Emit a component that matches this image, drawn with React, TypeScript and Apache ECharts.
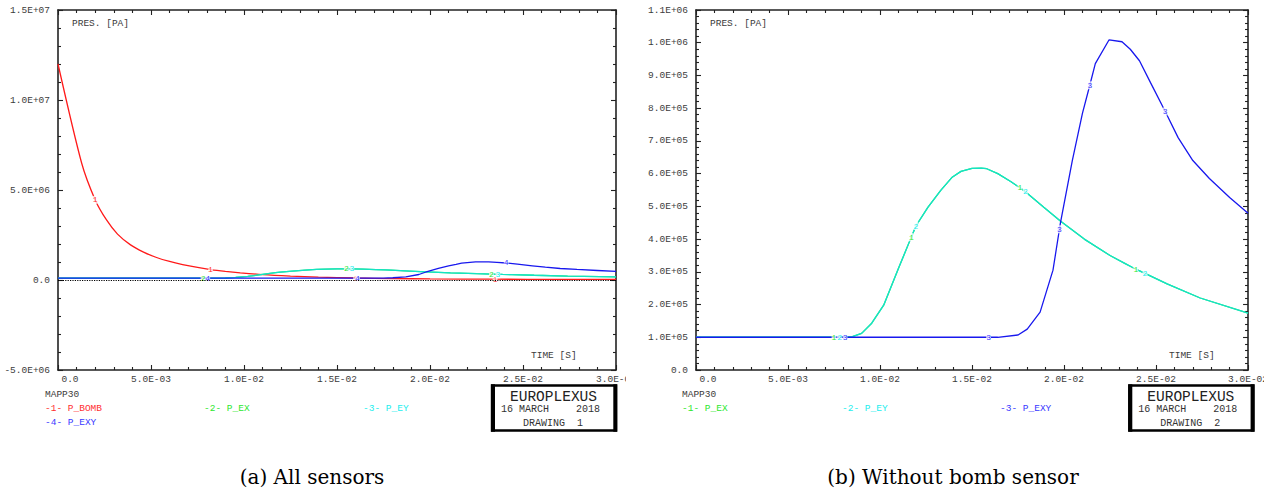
import React, { useEffect, useRef } from 'react';
import * as echarts from 'echarts';

// ---------- data ----------
const timeAxis = [0, 0.03, 0.005]; // min, max, step (s)
const pressureAxisA = [-5e6, 1.5e7, 5e6];
const pressureAxisB = [0, 1.1e6, 1e5];

const sensorNamesA = ['P_BOMB', 'P_EX', 'P_EY', 'P_EXY'];
const sensorNamesB = ['P_EX', 'P_EY', 'P_EXY'];

const bombTime = [0, 0.00127, 0.002, 0.0026, 0.0032, 0.0039, 0.0046, 0.0053, 0.006, 0.0067, 0.0075, 0.0082, 0.009, 0.0098, 0.011, 0.0125, 0.014, 0.016, 0.018, 0.02, 0.0235, 0.027, 0.03];
const bombValues = [1.2e7, 6.5e6, 4.45e6, 3.35e6, 2.55e6, 1.95e6, 1.55e6, 1.25e6, 1.03e6, 0.86e6, 0.7e6, 0.58e6, 0.48e6, 0.4e6, 0.3e6, 0.22e6, 0.16e6, 0.11e6, 0.08e6, 0.06e6, 0.045e6, 0.035e6, 0.03e6];

const exTime = [0, 0.0075, 0.0078, 0.008, 0.0085, 0.009, 0.00955, 0.0102, 0.011, 0.0117, 0.01195, 0.0126, 0.0133, 0.0139, 0.0144, 0.015, 0.0155, 0.0158, 0.0164, 0.0171, 0.0176, 0.0179, 0.0189, 0.0198, 0.0211, 0.0225, 0.0233, 0.02365, 0.0239, 0.0244, 0.0256, 0.0274, 0.03];
const exValues = [1.0e5, 1.0e5, 1.0e5, 1.0e5, 1.02e5, 1.12e5, 1.43e5, 1.98e5, 3.1e5, 4.06e5, 4.4e5, 4.97e5, 5.49e5, 5.88e5, 6.07e5, 6.16e5, 6.17e5, 6.15e5, 6.0e5, 5.76e5, 5.57e5, 5.45e5, 4.97e5, 4.55e5, 4.0e5, 3.5e5, 3.26e5, 3.155e5, 3.08e5, 2.95e5, 2.63e5, 2.2e5, 1.74e5];
const eyTime = exTime;
const eyValues = [1.0e5, 1.0e5, 1.0e5, 1.0e5, 1.02e5, 1.12e5, 1.43e5, 1.98e5, 3.1e5, 4.06e5, 4.4e5, 4.97e5, 5.49e5, 5.88e5, 6.07e5, 6.16e5, 6.17e5, 6.15e5, 6.0e5, 5.76e5, 5.57e5, 5.45e5, 4.97e5, 4.55e5, 4.0e5, 3.5e5, 3.26e5, 3.155e5, 3.08e5, 2.95e5, 2.63e5, 2.2e5, 1.74e5];

const exyTime = [0, 0.00805, 0.0081, 0.0159, 0.0161, 0.0164, 0.0175, 0.018, 0.0187, 0.0194, 0.01975, 0.0198, 0.02045, 0.021, 0.0214, 0.0217, 0.02245, 0.02315, 0.0236, 0.0241, 0.0247, 0.0255, 0.0262, 0.027, 0.0279, 0.029, 0.03];
const exyValues = [1e5, 1e5, 1e5, 1e5, 1e5, 1e5, 1.07e5, 1.25e5, 1.77e5, 3.05e5, 4.3e5, 4.48e5, 6.4e5, 7.84e5, 8.7e5, 9.36e5, 10.09e5, 10.03e5, 9.8e5, 9.45e5, 8.78e5, 7.9e5, 7.1e5, 6.4e5, 5.85e5, 5.27e5, 4.79e5];

// curve-number label positions (times)
const labelsA_bomb = [0.002, 0.0082, 0.016, 0.0235];
const labelsA_ex = [0.0078, 0.0155, 0.0233];
const labelsA_ey = [0.0158, 0.02365];
const labelsA_exy = [0.00805, 0.0161, 0.0241];
const labelsB_ex = [0.0075, 0.0117, 0.0176, 0.0239];
const labelsB_ey = [0.0078, 0.01195, 0.0179, 0.0244];
const labelsB_exy = [0.0081, 0.0159, 0.01975, 0.0214, 0.0255];

// ---------- styles ----------
const MONO = '"Liberation Mono", "DejaVu Sans Mono", monospace';
const GRAY = '#3c3c3c';
const C_BOMB = '#ff1a1a';
const C_EX = '#22e07a';
const C_EY = '#14e4c4';
const C_EXY = '#1818ee';
const T_BOMB = '#ff3030';
const T_EX = '#2ee82e';
const T_EY = '#22eeee';
const T_EXY = '#3a3aff';

function sci(v: number): string {
  if (Math.abs(v) < 1e-12) return '0.0';
  const s = v.toExponential(1);
  const [m, e] = s.split('e');
  return m + 'E' + e[0] + e.slice(1).padStart(2, '0');
}

const axisLine = { show: true, onZero: false, lineStyle: { color: '#222', width: 1.6 } };
const tickStyle = { color: '#222', width: 1.1 };

function xAxes(gridIndex: number) {
  const base = {
    type: 'value', gridIndex, min: timeAxis[0], max: timeAxis[1], interval: timeAxis[2],
    axisLine, splitLine: { show: false },
    axisTick: { show: true, inside: true, length: 5, lineStyle: tickStyle },
    minorTick: { show: true, splitNumber: 5, length: 3, lineStyle: tickStyle },
  };
  return [
    {
      ...base, position: 'bottom',
      axisLabel: {
        show: true, margin: 4, color: GRAY, fontFamily: MONO, fontSize: 9.5,
        showMinLabel: true, showMaxLabel: true,
        formatter: (v: number) => (Math.abs(v) < 1e-12 ? '{z|0.0}' : sci(v)),
        rich: { z: { padding: [0, 0, 0, 24], color: GRAY, fontFamily: MONO, fontSize: 9.5 } },
      },
    },
    { ...base, position: 'top', axisLabel: { show: false } },
  ];
}

function yAxes(gridIndex: number, range: number[]) {
  const base = {
    type: 'value', gridIndex, min: range[0], max: range[1], interval: range[2],
    axisLine, splitLine: { show: false },
    axisTick: { show: true, inside: true, length: 5, lineStyle: tickStyle },
    minorTick: { show: true, splitNumber: 5, length: 3, lineStyle: tickStyle },
  };
  return [
    {
      ...base, position: 'left',
      axisLabel: {
        show: true, margin: 8, color: GRAY, fontFamily: MONO, fontSize: 9.5,
        showMinLabel: true, showMaxLabel: true, formatter: (v: number) => sci(v),
      },
    },
    { ...base, position: 'right', axisLabel: { show: false } },
  ];
}

function lineSeries(name: string, times: number[], values: number[], color: string, labelColor: string,
  labelText: string, labelTimes: number[], axisIdx: number, extra: any = {}) {
  return {
    type: 'line', name, xAxisIndex: axisIdx, yAxisIndex: axisIdx,
    symbol: 'none', showSymbol: true, smooth: false,
    lineStyle: { color, width: 1.3 }, itemStyle: { color },
    label: { show: false }, emphasis: { disabled: true }, silent: true,
    data: times.map((t, i) =>
      labelTimes.includes(t)
        ? {
            value: [t, values[i]], symbol: 'circle', symbolSize: 1, itemStyle: { color: '#fff' },
            label: {
              show: true, formatter: labelText, position: 'inside', color: labelColor,
              fontSize: 8, fontFamily: MONO, backgroundColor: 'rgba(255,255,255,0.75)', padding: [0, 0],
            },
          }
        : [t, values[i]]
    ),
    ...extra,
  };
}

function txt(text: string, x: number, y: number, fill: string, fontSize = 9.5, align = 'left', fontFamily = MONO) {
  return {
    type: 'text', x, y, z: 50,
    style: { text, fill, fontSize, fontFamily, align, verticalAlign: 'middle' },
  };
}

function panelGraphics(dx: number, legendNames: string[], legendColors: string[], legendPos: number[][],
  plotLeft: number, timeLabelX: number, drawing: string) {
  const g: any[] = [];
  g.push(txt('PRES. [PA]', plotLeft + 14, 23.5, GRAY));
  g.push(txt('TIME [S]', timeLabelX, 355, GRAY));
  g.push(txt('MAPP30', legendPos[0][0], 394, GRAY));
  legendNames.forEach((n, i) => {
    g.push(txt(`-${i + 1}- ${n}`, legendPos[i][0], legendPos[i][1], legendColors[i]));
  });
  // title box
  g.push({ type: 'rect', z: 40, shape: { x: 492 + dx, y: 385.5, width: 124, height: 45 }, style: { fill: '#fff', stroke: '#000', lineWidth: 2.4 } });
  g.push({ type: 'rect', z: 41, shape: { x: 491 + dx, y: 384.3, width: 4, height: 47.4 }, style: { fill: '#000' } });
  g.push({ type: 'rect', z: 41, shape: { x: 613.3 + dx, y: 384.3, width: 4, height: 47.4 }, style: { fill: '#000' } });
  g.push(txt('EUROPLEXUS', 553.5 + dx, 396.5, '#222', 14.5, 'center'));
  g.push(txt('16 MARCH', 501 + dx, 409.5, '#333', 10));
  g.push(txt('2018', 600 + dx, 409.5, '#333', 10, 'right'));
  g.push(txt('DRAWING  ' + drawing, 523 + dx, 423, '#333', 10));
  return g;
}

export default function App() {
  const ref = useRef<HTMLDivElement>(null);
  useEffect(() => {
    if (!ref.current) return;
    const chart = echarts.init(ref.current, undefined, { renderer: 'svg' });
    const graphics = [
      ...panelGraphics(0, sensorNamesA, [T_BOMB, T_EX, T_EY, T_EXY], [[45, 408], [204, 408], [363, 408], [45, 422]], 58, 531, '1'),
      ...panelGraphics(637.3, sensorNamesB, [T_EX, T_EY, T_EXY], [[682, 408], [842, 408], [1000, 408]], 696, 1169, '2'),
      // sub-figure clipping of the last tick label
      { type: 'rect', z: 60, shape: { x: 626, y: 372, width: 14, height: 14 }, style: { fill: '#fff' } },
      { type: 'rect', z: 60, shape: { x: 1264, y: 372, width: 10, height: 14 }, style: { fill: '#fff' } },
      txt('(a) All sensors', 312, 477, '#000', 20, 'center', '"DejaVu Serif", serif'),
      txt('(b) Without bomb sensor', 953, 477, '#000', 20, 'center', '"DejaVu Serif", serif'),
    ];
    chart.setOption({
      animation: false,
      backgroundColor: '#fff',
      grid: [
        { left: 58, top: 10, width: 558, height: 360 },
        { left: 696, top: 10, width: 556, height: 360 },
      ],
      xAxis: [...xAxes(0), ...xAxes(1)],
      yAxis: [...yAxes(0, pressureAxisA), ...yAxes(1, pressureAxisB)],
      series: [
        lineSeries(sensorNamesA[0], bombTime, bombValues, C_BOMB, T_BOMB, '1', labelsA_bomb, 0, {
          smooth: 0.25,
          markLine: {
            silent: true, symbol: ['none', 'none'], label: { show: false },
            lineStyle: { type: 'dotted', color: '#000', width: 1.2 },
            data: [{ yAxis: 0 }],
          },
        }),
        lineSeries(sensorNamesA[1], exTime, exValues, C_EX, T_EX, '2', labelsA_ex, 0),
        lineSeries(sensorNamesA[2], eyTime, eyValues, C_EY, T_EY, '3', labelsA_ey, 0),
        lineSeries(sensorNamesA[3], exyTime, exyValues, C_EXY, T_EXY, '4', labelsA_exy, 0),
        lineSeries(sensorNamesB[0], exTime, exValues, C_EX, T_EX, '1', labelsB_ex, 2),
        lineSeries(sensorNamesB[1], eyTime, eyValues, C_EY, T_EY, '2', labelsB_ey, 2),
        lineSeries(sensorNamesB[2], exyTime, exyValues, C_EXY, T_EXY, '3', labelsB_exy, 2),
      ],
      graphic: graphics,
    });
    return () => chart.dispose();
  }, []);
  return <div ref={ref} style={{ position: 'absolute', left: 0, top: 0, width: 1271, height: 495 }} />;
}
